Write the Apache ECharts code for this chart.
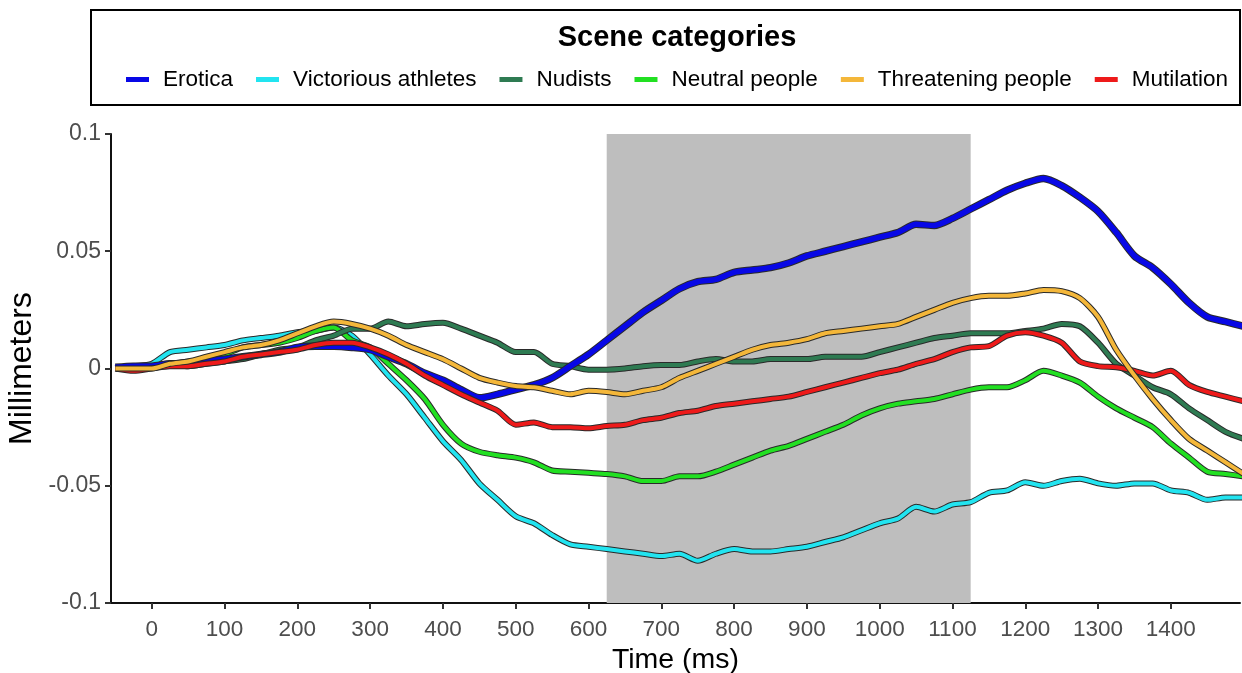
<!DOCTYPE html>
<html>
<head>
<meta charset="utf-8">
<script src="https://cdn.jsdelivr.net/npm/echarts@6/dist/echarts.min.js"></script>
<style>html,body{margin:0;padding:0;background:#fff}#c{width:1242px;height:673px}</style>
</head>
<body>
<div id="c"></div>
<script>
const times = [-50,-25,0,25,50,75,100,125,150,175,200,225,250,275,300,325,350,375,400,425,450,475,500,525,550,575,600,625,650,675,700,725,750,775,800,825,850,875,900,925,950,975,1000,1025,1050,1075,1100,1125,1150,1175,1200,1225,1250,1275,1300,1325,1350,1375,1400,1425,1450,1475,1500];

const erotica = [0.0005,0.001,0.001,0.002,0.002,0.003,0.004,0.005,0.006,0.007,0.009,0.0095,0.0095,0.009,0.008,0.005,0.002,-0.002,-0.005,-0.009,-0.0125,-0.011,-0.009,-0.007,-0.004,0.001,0.006,0.012,0.018,0.024,0.029,0.034,0.037,0.038,0.041,0.042,0.043,0.045,0.048,0.050,0.052,0.054,0.056,0.058,0.0615,0.061,0.064,0.068,0.072,0.076,0.079,0.081,0.078,0.073,0.067,0.058,0.048,0.043,0.036,0.028,0.022,0.020,0.018];
const victorious = [0,0.001,0.002,0.007,0.008,0.009,0.010,0.012,0.013,0.014,0.0155,0.016,0.0175,0.014,0.006,-0.003,-0.011,-0.021,-0.031,-0.039,-0.049,-0.056,-0.063,-0.066,-0.071,-0.075,-0.076,-0.077,-0.078,-0.079,-0.080,-0.079,-0.082,-0.079,-0.077,-0.078,-0.078,-0.077,-0.076,-0.074,-0.072,-0.069,-0.066,-0.064,-0.059,-0.061,-0.058,-0.057,-0.053,-0.052,-0.0485,-0.050,-0.048,-0.047,-0.049,-0.050,-0.049,-0.049,-0.052,-0.053,-0.056,-0.055,-0.055];
const nudists = [0,0.001,0.001,0.002,0.001,0.002,0.003,0.004,0.006,0.008,0.009,0.012,0.014,0.017,0.017,0.020,0.018,0.019,0.0195,0.017,0.014,0.011,0.007,0.007,0.002,0.001,-0.0005,-0.0005,0.000,0.001,0.0015,0.0015,0.003,0.004,0.003,0.003,0.004,0.004,0.004,0.005,0.005,0.005,0.007,0.009,0.011,0.013,0.014,0.015,0.015,0.015,0.016,0.017,0.019,0.018,0.011,0.002,-0.003,-0.008,-0.011,-0.017,-0.022,-0.027,-0.030];
const neutral = [0,0.001,0.001,0.002,0.003,0.004,0.006,0.009,0.010,0.011,0.013,0.016,0.0175,0.012,0.009,0.002,-0.005,-0.013,-0.024,-0.032,-0.0355,-0.037,-0.038,-0.040,-0.0435,-0.044,-0.0445,-0.045,-0.046,-0.048,-0.048,-0.046,-0.046,-0.044,-0.041,-0.038,-0.035,-0.033,-0.030,-0.027,-0.024,-0.020,-0.017,-0.015,-0.014,-0.013,-0.011,-0.009,-0.008,-0.008,-0.005,-0.001,-0.003,-0.006,-0.012,-0.017,-0.021,-0.025,-0.032,-0.038,-0.044,-0.045,-0.046];
const threatening = [0,0,0,0.002,0.003,0.005,0.007,0.009,0.010,0.012,0.015,0.018,0.020,0.019,0.017,0.014,0.010,0.007,0.004,0.000,-0.004,-0.006,-0.0075,-0.008,-0.0095,-0.011,-0.0095,-0.010,-0.011,-0.0095,-0.008,-0.004,-0.001,0.002,0.005,0.008,0.010,0.011,0.0125,0.015,0.016,0.017,0.018,0.019,0.022,0.025,0.028,0.030,0.031,0.031,0.032,0.0335,0.033,0.030,0.022,0.008,-0.003,-0.013,-0.022,-0.030,-0.035,-0.040,-0.045];
const mutilation = [0,-0.001,0,0.001,0.001,0.002,0.003,0.005,0.006,0.007,0.008,0.010,0.011,0.011,0.009,0.006,0.002,-0.003,-0.007,-0.011,-0.0145,-0.018,-0.024,-0.023,-0.025,-0.025,-0.0255,-0.0245,-0.024,-0.022,-0.021,-0.019,-0.018,-0.016,-0.015,-0.014,-0.013,-0.012,-0.010,-0.008,-0.006,-0.004,-0.002,-0.0005,0.002,0.004,0.007,0.009,0.0095,0.014,0.0155,0.014,0.011,0.003,0.001,0.0005,-0.001,-0.003,-0.001,-0.007,-0.010,-0.012,-0.014];

const categories = ['Erotica','Victorious athletes','Nudists','Neutral people','Threatening people','Mutilation'];
const xTicks = [0,100,200,300,400,500,600,700,800,900,1000,1100,1200,1300,1400];
const yTicks = [-0.1,-0.05,0,0.05,0.1];
const window_ = [625,1125];

const seriesInfo = {
  'Erotica': {data: erotica, color: '#0808e6', w: 5.5},
  'Victorious athletes': {data: victorious, color: '#22e4f0', w: 4},
  'Nudists': {data: nudists, color: '#2e7b52', w: 4},
  'Neutral people': {data: neutral, color: '#22e022', w: 4},
  'Threatening people': {data: threatening, color: '#f4b73a', w: 4},
  'Mutilation': {data: mutilation, color: '#ee1a1a', w: 4}
};
const drawOrder = ['Victorious athletes','Neutral people','Nudists','Erotica','Mutilation','Threatening people'];

const series = [];
drawOrder.forEach((name, i) => {
  const s = seriesInfo[name];
  const pts = times.map((t, k) => [t, s.data[k]]);
  const outline = {
    name: name + ' outline', type: 'line', data: pts, showSymbol: false, smooth: 0.25,
    lineStyle: {color: '#2a2a2a', width: s.w + 2}, color: '#2a2a2a', silent: true, z: 2
  };
  if (i === 0) {
    outline.markArea = {silent: true, itemStyle: {color: '#bebebe', opacity: 1},
      data: [[{xAxis: window_[0]}, {xAxis: window_[1]}]]};
  }
  series.push(outline);
  series.push({
    name: name, type: 'line', data: pts, showSymbol: false, smooth: 0.25,
    lineStyle: {color: s.color, width: s.w}, color: s.color, itemStyle: {color: s.color}, z: 2
  });
});

const chart = echarts.init(document.getElementById('c'), null, {renderer: 'canvas'});
chart.setOption({
  animation: false,
  backgroundColor: '#ffffff',
  textStyle: {fontFamily: 'Liberation Sans, Arial, sans-serif'},
  grid: {left: 111, right: 2, top: 134, bottom: 70, containLabel: false, outerBoundsMode: 'none'},
  graphic: [
    {type: 'rect', shape: {x: 91, y: 10, width: 1149, height: 95},
     style: {fill: '#ffffff', stroke: '#000000', lineWidth: 2}, z: 0},
    {type: 'text', x: 677, y: 38, style: {text: 'Scene categories', fill: '#000', font: 'bold 29px Liberation Sans, Arial, sans-serif', textAlign: 'center', textVerticalAlign: 'middle'}, z: 5}
  ],
  legend: {
    data: categories,
    top: 63, left: 121,
    itemWidth: 23, itemHeight: 5, itemGap: 23,
    icon: 'rect',
    textStyle: {fontSize: 22.5, color: '#000', fontFamily: 'Liberation Sans, Arial, sans-serif', padding: [0,0,0,9]},
    selectedMode: false
  },
  xAxis: {
    type: 'value', min: -56, max: 1495,
    name: 'Time (ms)', nameLocation: 'middle', nameGap: 40,
    nameTextStyle: {fontSize: 28.5, color: '#000'},
    axisLine: {onZero: false, lineStyle: {color: '#111', width: 2}},
    axisTick: {show: true, length: 6, lineStyle: {color: '#333', width: 2}, customValues: xTicks},
    axisLabel: {fontSize: 22.5, color: '#4d4d4d', margin: 15, customValues: xTicks, formatter: v => String(v)},
    splitLine: {show: false}
  },
  yAxis: {
    type: 'value', min: -0.1, max: 0.1, interval: 0.05,
    name: 'Millimeters', nameLocation: 'middle', nameGap: 67, nameRotate: 90,
    nameTextStyle: {fontSize: 32, color: '#000'},
    axisLine: {show: true, onZero: false, lineStyle: {color: '#111', width: 2}},
    axisTick: {show: true, length: 6, lineStyle: {color: '#333', width: 2}},
    axisLabel: {fontSize: 23, color: '#4d4d4d', margin: 10,
      formatter: v => { const m = yTicks.find(t => Math.abs(t - v) < 1e-9); return String(m !== undefined ? m : v); }},
    splitLine: {show: false}
  },
  series: series
});
</script>
</body>
</html>
